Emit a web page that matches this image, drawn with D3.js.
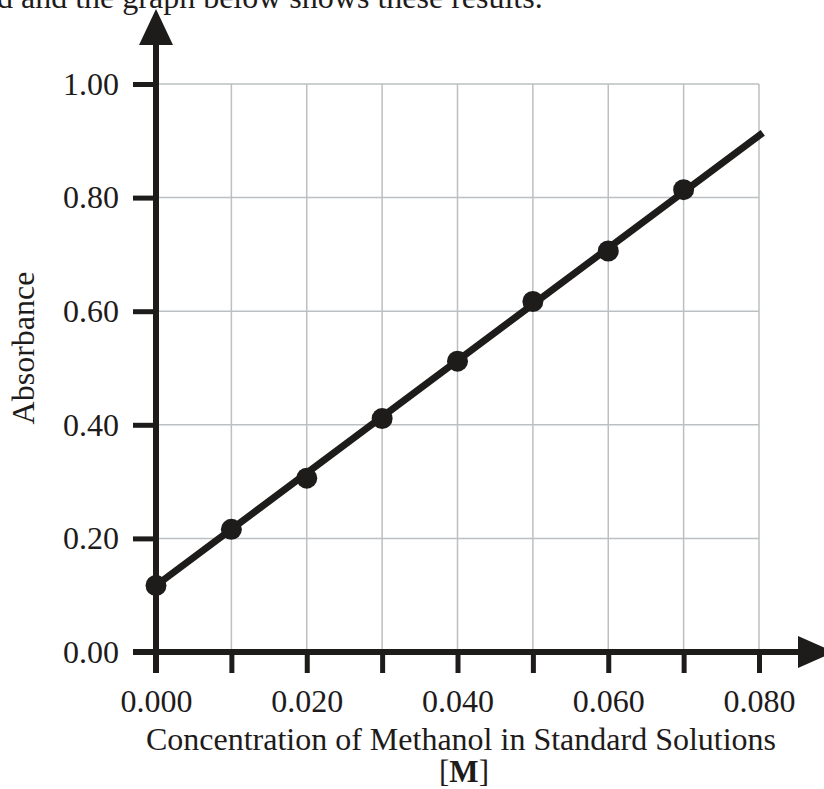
<!DOCTYPE html>
<html>
<head>
<meta charset="utf-8">
<script src="https://cdn.jsdelivr.net/npm/d3@7"></script>
<style>
  html, body { margin: 0; padding: 0; background: #fff; }
  svg { display: block; }
  text { font-family: "Liberation Serif", "Times New Roman", serif; fill: #1e1b1b; }
</style>
</head>
<body>
<svg id="chart" width="824" height="789"></svg>
<script>
// ---- data ----
const concentration = [0.000, 0.010, 0.020, 0.030, 0.040, 0.050, 0.060, 0.070];
const absorbance    = [0.117, 0.216, 0.306, 0.411, 0.512, 0.617, 0.706, 0.814];
const fitX = [0.000, 0.0805];
const fitY = [0.117, 0.914];
const xTickValues = [0, 0.01, 0.02, 0.03, 0.04, 0.05, 0.06, 0.07, 0.08];
const xTickLabels = ["0.000", "", "0.020", "", "0.040", "", "0.060", "", "0.080"];
const yTickValues = [0, 0.2, 0.4, 0.6, 0.8, 1.0];
const yTickLabels = ["0.00", "0.20", "0.40", "0.60", "0.80", "1.00"];
const xTitle = "Concentration of Methanol in Standard Solutions";
const yTitle = "Absorbance";
const topText = "d and the graph below shows these results.";

const ink = "#1e1b1b";
const grid = "#bcc0c2";
const svg = d3.select("#chart");

const x = d3.scaleLinear().domain([0, 0.08]).range([156, 759]);
const y = d3.scaleLinear().domain([0, 1]).range([652, 84]);

// top sentence (partly above the frame, as in the reference)
svg.append("text").attr("x", -3).attr("y", 8).attr("font-size", 32).text(topText);

// grid
svg.append("g").selectAll("line").data(xTickValues.slice(1)).join("line")
  .attr("x1", d => x(d)).attr("x2", d => x(d))
  .attr("y1", y(1)).attr("y2", y(0))
  .attr("stroke", grid).attr("stroke-width", 1.5);
svg.append("g").selectAll("line").data(yTickValues.slice(1)).join("line")
  .attr("x1", x(0)).attr("x2", x(0.08))
  .attr("y1", d => y(d)).attr("y2", d => y(d))
  .attr("stroke", grid).attr("stroke-width", 1.5);

// axes ticks via d3 axes
const xAxis = d3.axisBottom(x).tickValues(xTickValues).tickSize(21).tickPadding(16)
  .tickFormat((d, i) => xTickLabels[i]);
const gx = svg.append("g").attr("transform", `translate(0,${y(0)})`).call(xAxis);
gx.select(".domain").remove();
gx.selectAll(".tick line").attr("stroke", ink).attr("stroke-width", 5);
gx.selectAll(".tick text").attr("font-size", 32).attr("font-family", "Liberation Serif").attr("fill", ink);

const yAxis = d3.axisLeft(y).tickValues(yTickValues).tickSize(23).tickPadding(14)
  .tickFormat((d, i) => yTickLabels[i]);
const gy = svg.append("g").attr("transform", `translate(${x(0)},0)`).call(yAxis);
gy.select(".domain").remove();
gy.selectAll(".tick line").attr("stroke", ink).attr("stroke-width", 5);
gy.selectAll(".tick text").attr("font-size", 32).attr("font-family", "Liberation Serif").attr("fill", ink);

// axis lines with arrows
svg.append("line").attr("x1", 133).attr("x2", 800).attr("y1", y(0)).attr("y2", y(0))
  .attr("stroke", ink).attr("stroke-width", 6);
svg.append("path").attr("d", `M798,${y(0) - 16} L834,${y(0)} L798,${y(0) + 16} Z`).attr("fill", ink);
svg.append("line").attr("x1", x(0)).attr("x2", x(0)).attr("y1", y(0) + 21).attr("y2", 43)
  .attr("stroke", ink).attr("stroke-width", 6);
svg.append("path").attr("d", `M${x(0) - 17},45 L${x(0)},9 L${x(0) + 17},45 Z`).attr("fill", ink);

// fitted line
const line = d3.line().x(d => x(d[0])).y(d => y(d[1]));
svg.append("path").datum(fitX.map((v, i) => [v, fitY[i]]))
  .attr("d", line).attr("fill", "none").attr("stroke", ink).attr("stroke-width", 7);

// points
svg.append("g").selectAll("circle").data(concentration.map((c, i) => [c, absorbance[i]])).join("circle")
  .attr("cx", d => x(d[0])).attr("cy", d => y(d[1])).attr("r", 10.5).attr("fill", ink);

// titles
svg.append("text").attr("x", 461).attr("y", 750).attr("text-anchor", "middle")
  .attr("font-size", 32).text(xTitle);
const mt = svg.append("text").attr("x", 464).attr("y", 782).attr("text-anchor", "middle").attr("font-size", 31);
mt.append("tspan").text("[");
mt.append("tspan").attr("font-weight", "bold").text("M");
mt.append("tspan").text("]");
svg.append("text").attr("transform", "translate(34,348) rotate(-90)").attr("text-anchor", "middle")
  .attr("font-size", 32).text(yTitle);
</script>
</body>
</html>
